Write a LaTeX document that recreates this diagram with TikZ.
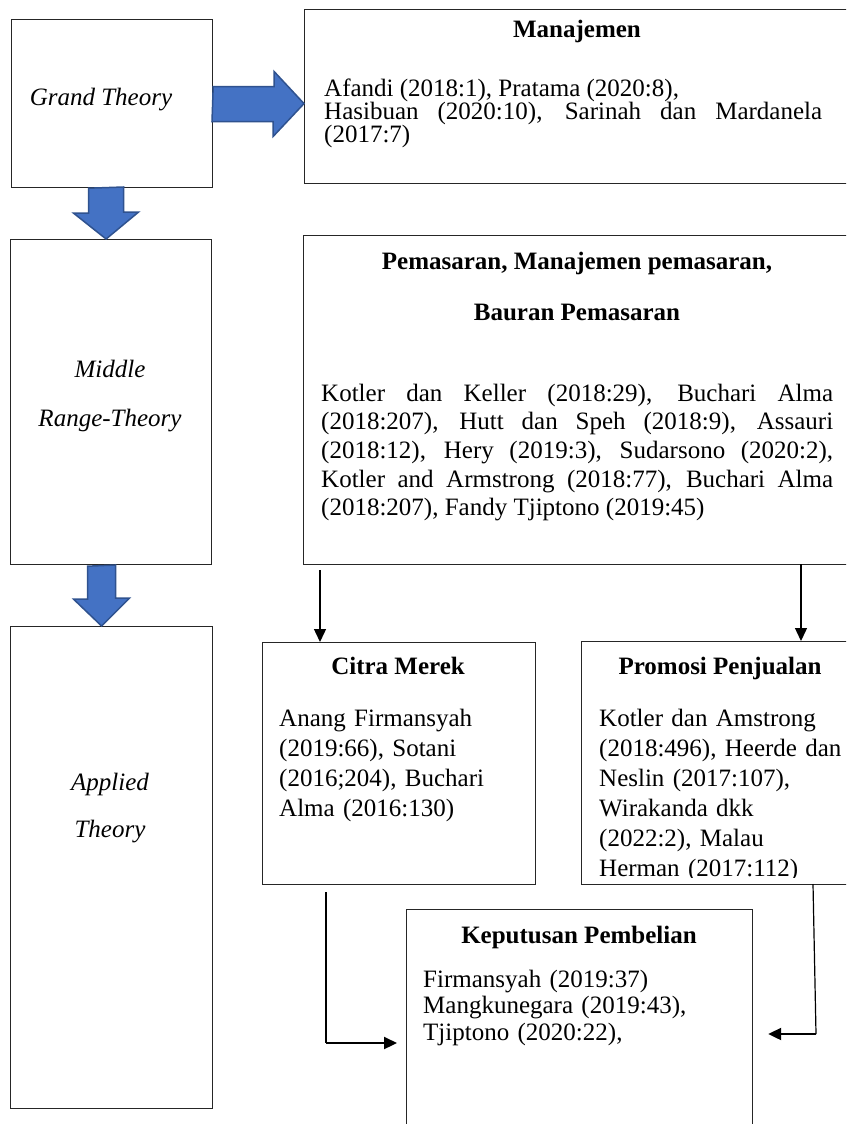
\documentclass[tikz,border=0pt]{standalone}
\usepackage{fontspec}
\setmainfont{Liberation Serif}
\usetikzlibrary{arrows.meta,positioning,calc}
\definecolor{wordBlue}{RGB}{68,114,196}
\definecolor{wordNavy}{RGB}{47,82,143}
\tolerance=10000
\hbadness=10000
\hyphenpenalty=10000

\begin{document}
\begin{tikzpicture}[x=1pt, y=-1pt,
    box/.style={draw=black!85, line width=1.2pt, anchor=north west, inner sep=0pt},
    blk/.style={fill=wordBlue, draw=wordNavy, line width=1.5pt, line join=miter},
    link/.style={line width=1.2pt},
    arr/.style={-{Triangle[length=13pt,width=12pt]}, line width=1.4pt},
    arrthick/.style={arr, line width=2.2pt},
    ttl/.style={font=\fontsize{25}{30}\selectfont\bfseries, anchor=base, inner sep=0pt},
    lbl/.style={font=\fontsize{25}{30}\selectfont\itshape, anchor=base, inner sep=0pt},
    body/.style={font=\fontsize{25}{#1}\selectfont, anchor=base west, inner sep=0pt,
                 text width=300pt, align=left}]

    \useasboundingbox (0,0) rectangle (846,1124);
    \clip (0,0) rectangle (846,1124);
    \fill[white] (0,0) rectangle (846,1124);

    % Theory levels on the left
    \node[box, minimum width=201pt, minimum height=168pt] (grand) at (11,19) {};
    \node[box, minimum width=201pt, minimum height=325pt] (middle) at (10,239) {};
    \node[box, minimum width=202pt, minimum height=482pt] (applied) at (10,626) {};

    \node[lbl] (grandtxt) at (101,105) {Grand Theory};
    \node[lbl] (midtxt) at (110,377) {Middle};
    \node[lbl] (rangetxt) at (110,426) {Range-Theory};
    \node[lbl] (appliedtxt) at (110,790) {Applied};
    \node[lbl] (theorytxt) at (110,837) {Theory};

    % Literature boxes
    \node[box, minimum width=550pt, minimum height=174pt] (mgmt) at (304,9) {};
    \node[box, minimum width=550pt, minimum height=329pt] (pem) at (303,235) {};
    \node[box, minimum width=273pt, minimum height=242pt] (citra) at (262,642) {};
    \node[box, minimum width=280pt, minimum height=243pt] (promo) at (581,641) {};
    \node[box, minimum width=346pt, minimum height=260pt] (kep) at (406,909) {};

    \node[ttl] (mgmttl) at (577,38) {Manajemen};
    \node[body=23, text width=498pt, align=justify] (mgmtref) at (324,96)
      {Afandi (2018:1), Pratama (2020:8),\\
       Hasibuan (2020:10), Sarinah dan Mardanela\linebreak
       (2017:7)};

    \node[ttl] (pemttl) at (577,269) {Pemasaran, Manajemen pemasaran,};
    \node[ttl] (pemttl2) at (577,320) {Bauran Pemasaran};
    \node[body=28.7, text width=512pt, align=justify] (pemref) at (321,401)
      {Kotler dan Keller (2018:29), Buchari Alma\linebreak
       (2018:207), Hutt dan Speh (2018:9), Assauri\linebreak
       (2018:12), Hery (2019:3), Sudarsono (2020:2),\linebreak
       Kotler and Armstrong (2018:77), Buchari Alma\linebreak
       (2018:207), Fandy Tjiptono (2019:45)};

    \node[ttl] (citrattl) at (398,674) {Citra Merek};
    \node[body=30.3] (citraref) at (279,726)
      {Anang Firmansyah\\(2019:66), Sotani\\(2016;204), Buchari\\Alma (2016:130)};

    \node[ttl] (promottl) at (720,674) {Promosi Penjualan};
    \begin{scope}
      \clip (promo.north west) rectangle ($(promo.south east)+(0,-8)$);
      \node[body=30] (promoref) at (599,726)
        {Kotler dan Amstrong\\(2018:496), Heerde dan\\Neslin (2017:107),\\Wirakanda dkk\\(2022:2), Malau\\Herman (2017:112)};
    \end{scope}

    \node[ttl] (kepttl) at (579,943) {Keputusan Pembelian};
    \node[body=26.7] (kepref) at (423,987)
      {Firmansyah (2019:37)\\Mangkunegara (2019:43),\\Tjiptono (2020:22),};

    % Block arrows
    \draw[blk] ($(grand.east)+(0,-17)$) -- ++(61,0) -- ++(0,-15)
      -- (mgmt.west |- grand.east) -- ++(-31,33) -- ++(0,-15) -- ++(-61,0) -- cycle;
    \draw[blk] ($(grand.south)+(-23.5,0)$) -- ++(0,25) -- ++(-15,0)
      -- ($(middle.north)+(-5,0)$) -- ++(32.5,-27) -- ++(-15,0) -- ++(0,-25) -- cycle;
    \draw[blk] ($(middle.south)+(-23.5,1)$) -- ++(0,33) -- ++(-14,0)
      -- ($(applied.north)+(-10,0)$) -- ++(28,-28) -- ++(-14,0) -- ++(0,-33) -- cycle;

    % Thin connectors
    \coordinate (pemL) at ($(pem.south west)+(17,5)$);
    \coordinate (pemR) at (801,564);
    \draw[arr] (pemL) -- (pemL |- citra.north);
    \draw[arr] (pemR) -- (pemR |- promo.north);

    \coordinate (citraOut) at (326,892);
    \coordinate (citraBend) at (326,1043);
    \draw[link] (citraOut) -- (citraBend);
    \draw[arrthick, shorten >=9pt] (citraBend) -- (kep.west |- citraBend);

    \coordinate (promoOut) at (813,884);
    \coordinate (promoBend) at (816,1034);
    \draw[link] (promoOut) -- (promoBend);
    \draw[arrthick, shorten >=15pt] (promoBend) -- (kep.east |- promoBend);

\end{tikzpicture}
\end{document}
